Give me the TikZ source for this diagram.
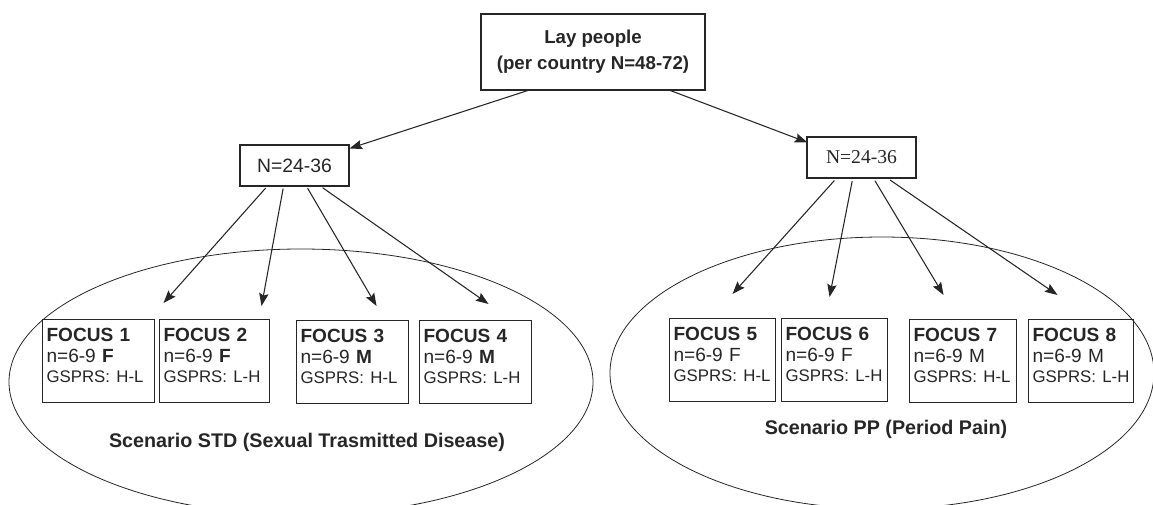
\documentclass[tikz,border=0pt]{standalone}
\usepackage{fontspec}
\setmainfont{Liberation Sans}
\newfontfamily\timesfont{Liberation Serif}
\usetikzlibrary{arrows.meta,calc}

\tikzset{
  box/.style={draw=black!85, text=black!85, line width=0.8pt},
  focus/.style={box, anchor=north west, align=left, inner xsep=3pt, inner ysep=0pt,
    text height=16.5pt, text depth=45.75pt, font=\fontsize{14.3}{15.4}\selectfont},
  scen/.style={anchor=base, text=black!85, font=\bfseries\fontsize{14.8}{17}\selectfont},
  arr/.style={-{Stealth[length=9.5pt,width=7pt,inset=1.5pt]}, draw=black!85, line width=0.8pt},
}
\newcommand{\gsprs}[1]{\mbox{\fontsize{12.6}{15.4}\selectfont GSPRS: #1}}

\begin{document}
\begin{tikzpicture}[x=0.75pt,y=-0.75pt]
    \useasboundingbox (0,0) rectangle (1153,504);

    % Scenario ellipses
    \begin{scope}
        \clip (0,0) rectangle (1153,504);
        \draw[black!85, line width=0.6pt] (301,382) ellipse [x radius=292, y radius=133];
        \draw[black!85, line width=0.6pt] (882,373) ellipse [x radius=272, y radius=136];
    \end{scope}

    % Lay people
    \node[box, minimum width=168pt, minimum height=57pt, align=center,
          font=\bfseries\fontsize{14}{19.5}\selectfont] (lay) at (593,52)
        {Lay people\\(per country N=48-72)};

    % Halves
    \node[box, minimum width=81.75pt, minimum height=30.75pt,
          font=\fontsize{14.5}{17}\selectfont] (nl) at (294.5,165.5) {N=24-36};
    \node[box, minimum width=81.75pt, minimum height=30.75pt,
          font=\timesfont\fontsize{14.7}{17}\selectfont] (nr) at (861.5,157.5) {N=24-36};

    % Focus groups, STD
    \node[focus, text width=78pt] (f1) at (42,319) {\textbf{FOCUS 1}\\n=6-9 \textbf{F}\\\gsprs{H-L}};
    \node[focus, text width=76.5pt] (f2) at (159,319) {\textbf{FOCUS 2}\\n=6-9 \textbf{F}\\\gsprs{L-H}};
    \node[focus, text width=78pt] (f3) at (296,320) {\textbf{FOCUS 3}\\n=6-9 \textbf{M}\\\gsprs{H-L}};
    \node[focus, text width=78pt] (f4) at (419,320) {\textbf{FOCUS 4}\\n=6-9 \textbf{M}\\\gsprs{L-H}};

    % Focus groups, PP
    \node[focus, text width=73.5pt] (f5) at (669,318) {\textbf{FOCUS 5}\\n=6-9 F\\\gsprs{H-L}};
    \node[focus, text width=73.5pt] (f6) at (781,318) {\textbf{FOCUS 6}\\n=6-9 F\\\gsprs{L-H}};
    \node[focus, text width=74.25pt] (f7) at (909,319) {\textbf{FOCUS 7}\\n=6-9 M\\\gsprs{H-L}};
    \node[focus, text width=72.75pt] (f8) at (1028,319) {\textbf{FOCUS 8}\\n=6-9 M\\\gsprs{L-H}};

    % Scenario labels
    \node[scen] (std) at (307,447) {Scenario STD (Sexual Trasmitted Disease)};
    \node[scen] (pp) at (886,434) {Scenario PP (Period Pain)};

    % Arrows
    \draw[arr] ($(lay.south west)!0.21!(lay.south east)$) -- ($(nl.north east)+(0,4)$);
    \draw[arr] ($(lay.south west)!0.844!(lay.south east)$) -- ($(nr.north west)+(1,6)$);

    \foreach \f/\s/\dx/\dy in {f1/0.25/65/-16, f2/0.40/47/-13, f3/0.61/24/-14, f4/0.74/13/-16}
        \draw[arr, shorten <=1.5pt] ($(nl.south west)!\s!(nl.south east)$) -- ($(\f.north)+(\dx,\dy)$);
    \foreach \f/\s/\dx/\dy in {f5/0.27/10/-24, f6/0.42/-5/-21, f7/0.61/-19.5/-24, f8/0.74/-23.5/-24}
        \draw[arr, shorten <=2pt] ($(nr.south west)!\s!(nr.south east)$) -- ($(\f.north)+(\dx,\dy)$);
\end{tikzpicture}
\end{document}
